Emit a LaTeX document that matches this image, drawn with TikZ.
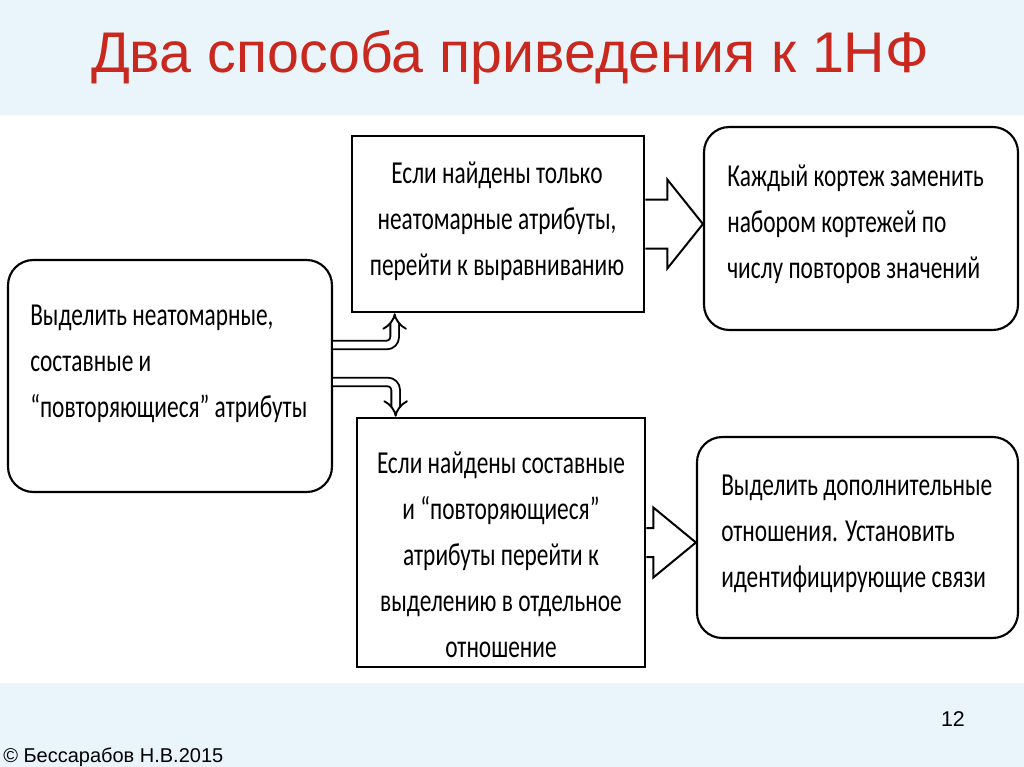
\documentclass[tikz,border=0pt]{standalone}
\usepackage{fontspec}
\setmainfont{Carlito}[FakeStretch=0.73]
\newfontfamily\headfont{Liberation Sans}
\usetikzlibrary{arrows.meta,calc}
\definecolor{bandblue}{RGB}{233,245,250}
\definecolor{titlered}{RGB}{200,40,30}
\tikzset{
	box/.style={draw,line width=2pt,inner sep=0pt},
	rbox/.style={draw,line width=1.6pt,inner sep=0pt,rounded corners=19pt},
	txt/.style={inner sep=0pt,font=\fontsize{24}{34.5}\selectfont},
	dbl/.style={double,double distance=5pt,line width=1.4pt,rounded corners=6pt,-{Implies}},
	blk/.style={line width=1.5pt,line join=miter}
}
\begin{document}
\begin{tikzpicture}[x=0.75pt,y=-0.75pt]
		\useasboundingbox (0,0) rectangle (1024,767);
		\fill[bandblue] (0,0) rectangle (1024,115);
		\fill[bandblue] (0,683) rectangle (1024,767);
		\node[anchor=base,inner sep=0pt,text=titlered,font=\headfont\fontsize{43}{50}\selectfont] (title) at (510,73) {Два способа приведения к 1НФ};
		\node[anchor=base east,inner sep=0pt,font=\headfont\fontsize{16}{18}\selectfont] (page) at (965,726) {12};
		\node[anchor=base west,inner sep=0pt,font=\headfont\fontsize{15}{18}\selectfont] (author) at (3,762) {© Бессарабов Н.В.2015};
		% boxes
		\node[rbox,minimum width=243pt,minimum height=174pt] (lbox) at (170,376) {};
		\node[box,minimum width=219pt,minimum height=132pt] (tbox) at (498,224) {};
		\node[box,minimum width=216pt,minimum height=186.75pt] (bbox) at (501,542.5) {};
		\node[rbox,minimum width=235.5pt,minimum height=152.25pt] (trbox) at (861,228.5) {};
		\node[rbox,minimum width=240.75pt,minimum height=150.75pt] (brbox) at (857.5,537.5) {};
		% texts
		\node[txt,anchor=north west,align=left] (ltext) at (30,305) {Выделить неатомарные,\\составные и\\“повторяющиеся” атрибуты};
		\node[txt,anchor=north,align=center] (ttext) at (497,162) {Если найдены только\\неатомарные атрибуты,\\перейти к выравниванию};
		\node[txt,anchor=north,align=center] (btext) at (501,452) {Если найдены составные\\и “повторяющиеся”\\атрибуты перейти к\\выделению в отдельное\\отношение};
		\node[txt,anchor=north west,align=left] (trtext) at (727,165) {Каждый кортеж заменить\\набором кортежей по\\числу повторов значений};
		\node[txt,anchor=north west,align=left] (brtext) at (721,475) {Выделить дополнительные\\отношения. Установить\\идентифицирующие связи};
		% double arrows
		\draw[dbl] ($(lbox.east)+(0,-31)$) -| ($(tbox.south west)+(44,0)$);
		\draw[dbl] ($(lbox.east)+(0,6)$) -| ($(bbox.north west)+(40,0)$);
		% block arrows
		\draw[blk] ($(tbox.east)+(0,-24.5)$) -- ++(22,0) -- ++(0,-20) -- ($(trbox.west |- tbox.east)$) -- ($(tbox.east)+(22,44.5)$) -- ++(0,-20) -- ($(tbox.east)+(0,24.5)$);
		\draw[blk] ($(bbox.east)+(0,-14.5)$) -- ++(7,0) -- ++(0,-20.5) -- ($(brbox.west |- bbox.east)$) -- ($(bbox.east)+(7,35)$) -- ++(0,-20.5) -- ($(bbox.east)+(0,14.5)$);
\end{tikzpicture}
\end{document}
